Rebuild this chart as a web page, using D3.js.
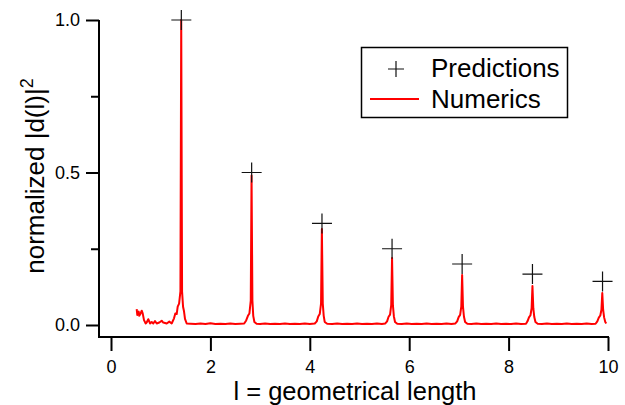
<!DOCTYPE html>
<html>
<head>
<meta charset="utf-8">
<script src="https://cdn.jsdelivr.net/npm/d3@7"></script>
<style>
  html, body { margin: 0; padding: 0; background: #fff; }
  svg { display: block; }
  text { font-family: "Liberation Sans", Arial, Helvetica, sans-serif; fill: #000; }
</style>
</head>
<body>
<svg id="chart" width="625" height="405"></svg>
<script>
// ---- data ----
const xTicks = [0, 2, 4, 6, 8, 10];
const yTicks = [0.0, 0.5, 1.0];
const yMinorTicks = [0.25, 0.75];

// Predictions (plus markers)
const predL = [1.415, 2.83, 4.245, 5.655, 7.065, 8.48, 9.89];
const predY = [1.0, 0.5, 0.333, 0.25, 0.2, 0.167, 0.143];

// Numerics (red curve)
const numL = [
  0.517, 0.529, 0.545, 0.557, 0.569, 0.590, 0.618, 0.638, 0.664, 0.698,
  0.720, 0.750, 0.785, 0.819, 0.851, 0.885, 0.920, 0.972, 1.020, 1.052,
  1.121, 1.173, 1.221, 1.268, 1.294, 1.322, 1.342, 1.370, 1.397, 1.413,
  1.430, 1.450, 1.469, 1.489, 1.523,
  1.60, 1.70, 1.80, 1.90, 2.00, 2.10, 2.20, 2.30, 2.40, 2.50, 2.60, 2.68,
  2.72, 2.755, 2.785, 2.812, 2.828, 2.845, 2.862, 2.885, 2.93,
  3.00, 3.10, 3.20, 3.30, 3.40, 3.50, 3.60, 3.70, 3.80, 3.90, 4.00, 4.10,
  4.14, 4.17, 4.20, 4.226, 4.243, 4.261, 4.28, 4.30, 4.35,
  4.45, 4.55, 4.65, 4.75, 4.85, 4.95, 5.05, 5.15, 5.25, 5.35, 5.45, 5.52,
  5.555, 5.585, 5.615, 5.638, 5.655, 5.672, 5.692, 5.715, 5.76,
  5.85, 5.95, 6.05, 6.15, 6.25, 6.35, 6.45, 6.55, 6.65, 6.75, 6.85, 6.93,
  6.965, 6.995, 7.025, 7.048, 7.065, 7.082, 7.102, 7.125, 7.17,
  7.25, 7.35, 7.45, 7.55, 7.65, 7.75, 7.85, 7.95, 8.05, 8.15, 8.25, 8.35,
  8.38, 8.41, 8.44, 8.463, 8.48, 8.497, 8.517, 8.54, 8.585,
  8.67, 8.77, 8.87, 8.97, 9.07, 9.17, 9.27, 9.37, 9.47, 9.57, 9.67, 9.75,
  9.785, 9.815, 9.845, 9.868, 9.885, 9.902, 9.922, 9.945, 9.965
];
const numY = [
  0.052, 0.033, 0.041, 0.044, 0.030, 0.036, 0.047, 0.038, 0.016, 0.005,
  0.009, 0.019, 0.005, 0.010, 0.005, 0.013, 0.005, 0.008, 0.014, 0.008,
  0.005, 0.011, 0.005, 0.022, 0.038, 0.036, 0.060, 0.070, 0.110, 1.000,
  0.110, 0.060, 0.045, 0.020, 0.005,
  0.004, 0.003, 0.005, 0.003, 0.006, 0.003, 0.004, 0.003, 0.005, 0.003, 0.004, 0.005,
  0.015, 0.030, 0.038, 0.080, 0.490, 0.080, 0.030, 0.010, 0.004,
  0.003, 0.005, 0.003, 0.004, 0.003, 0.005, 0.003, 0.004, 0.003, 0.005, 0.003, 0.005,
  0.012, 0.028, 0.036, 0.070, 0.315, 0.070, 0.030, 0.010, 0.004,
  0.003, 0.005, 0.003, 0.004, 0.003, 0.005, 0.003, 0.004, 0.003, 0.005, 0.003, 0.005,
  0.012, 0.027, 0.034, 0.065, 0.220, 0.065, 0.028, 0.010, 0.004,
  0.003, 0.005, 0.003, 0.004, 0.003, 0.005, 0.003, 0.004, 0.003, 0.005, 0.003, 0.005,
  0.012, 0.026, 0.033, 0.060, 0.164, 0.060, 0.027, 0.010, 0.004,
  0.003, 0.005, 0.003, 0.004, 0.003, 0.005, 0.003, 0.004, 0.003, 0.005, 0.003, 0.004,
  0.012, 0.025, 0.032, 0.055, 0.128, 0.055, 0.026, 0.010, 0.004,
  0.003, 0.005, 0.003, 0.004, 0.003, 0.005, 0.003, 0.004, 0.003, 0.005, 0.003, 0.004,
  0.012, 0.024, 0.031, 0.050, 0.105, 0.050, 0.025, 0.010, 0.005
];

const legendLabels = ["Predictions", "Numerics"];

// ---- drawing ----
const svg = d3.select("#chart");
const x = d3.scaleLinear().domain([0, 10]).range([111, 608]);
const y = d3.scaleLinear().domain([0, 1]).range([325, 20]);
const axisX = 99, axisY = 337;

// axis frame lines
svg.append("line").attr("x1", axisX).attr("x2", axisX)
  .attr("y1", y(1)).attr("y2", axisY + 0.5)
  .attr("stroke", "#000").attr("stroke-width", 2);
svg.append("line").attr("x1", axisX - 1).attr("x2", x(10) + 1)
  .attr("y1", axisY).attr("y2", axisY)
  .attr("stroke", "#000").attr("stroke-width", 2);

// y axis major
const gy = svg.append("g").attr("transform", `translate(${axisX},0)`)
  .call(d3.axisLeft(y).tickValues(yTicks).tickSize(13).tickPadding(6)
    .tickFormat(d3.format(".1f")));
gy.select(".domain").remove();
gy.selectAll(".tick line").attr("stroke", "#000").attr("stroke-width", 2);
gy.selectAll(".tick text").style("font-size", "18px")
  .style("font-family", "Liberation Sans, Arial, sans-serif").attr("fill", "#000");

// y axis minor
const gym = svg.append("g").attr("transform", `translate(${axisX},0)`)
  .call(d3.axisLeft(y).tickValues(yMinorTicks).tickSize(8).tickFormat(""));
gym.select(".domain").remove();
gym.selectAll(".tick line").attr("stroke", "#000").attr("stroke-width", 2);

// x axis
const gx = svg.append("g").attr("transform", `translate(0,${axisY})`)
  .call(d3.axisBottom(x).tickValues(xTicks).tickSize(14).tickFormat(d3.format("d")));
gx.select(".domain").remove();
gx.selectAll(".tick line").attr("stroke", "#000").attr("stroke-width", 2);
gx.selectAll(".tick text").style("font-size", "18px")
  .style("font-family", "Liberation Sans, Arial, sans-serif").attr("fill", "#000")
  .attr("y", 36).attr("dy", "0");

// axis titles
svg.append("text").attr("x", 355).attr("y", 399.5).attr("text-anchor", "middle")
  .style("font-size", "25.5px").text("l = geometrical length");

const yt = svg.append("text").attr("transform", "translate(44,176) rotate(-90)")
  .attr("text-anchor", "middle").style("font-size", "26px");
yt.append("tspan").text("normalized |d(l)|");
yt.append("tspan").attr("dy", "-11").style("font-size", "18px").text("2");

// numerics line
const pts = numL.map((l, i) => [l, numY[i]]);
svg.append("path").datum(pts)
  .attr("fill", "none").attr("stroke", "#ff0000").attr("stroke-width", 2)
  .attr("stroke-linejoin", "round")
  .attr("d", d3.line().x(d => x(d[0])).y(d => y(d[1])));

// predictions plus markers
const plusPath = (cx, cy, r) => `M${cx - r},${cy}H${cx + r}M${cx},${cy - r}V${cy + r}`;
svg.append("g").selectAll("path").data(predL.map((l, i) => [l, predY[i]]))
  .join("path")
  .attr("d", d => plusPath(x(d[0]), y(d[1]), 10))
  .attr("stroke", "#111").attr("stroke-width", 1.2).attr("fill", "none");

// legend
const lg = svg.append("g");
lg.append("rect").attr("x", 361.5).attr("y", 47.5).attr("width", 206).attr("height", 70)
  .attr("fill", "#fff").attr("stroke", "#000").attr("stroke-width", 1.5);
lg.append("path").attr("d", plusPath(396, 69, 8))
  .attr("stroke", "#111").attr("stroke-width", 1.2);
lg.append("line").attr("x1", 370).attr("x2", 419).attr("y1", 99).attr("y2", 99)
  .attr("stroke", "#ff0000").attr("stroke-width", 2);
lg.append("text").attr("x", 431).attr("y", 77).style("font-size", "26px").text(legendLabels[0]);
lg.append("text").attr("x", 431).attr("y", 108).style("font-size", "26px").text(legendLabels[1]);
</script>
</body>
</html>
